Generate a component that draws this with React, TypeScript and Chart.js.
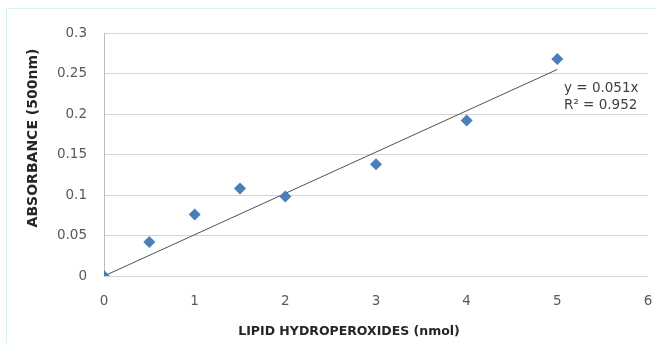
import React, { useEffect, useRef } from "react";
import { Chart, registerables } from "chart.js";

Chart.register(...registerables);

const lipidNmol = [0, 0.5, 1, 1.5, 2, 3, 4, 5];
const absorbance = [0, 0.042, 0.076, 0.108, 0.098, 0.138, 0.192, 0.268];
const trendX = [0, 5];
const trendY = [0, 0.255];
const xTickLabels = ["0", "1", "2", "3", "4", "5", "6"];
const yTickLabels = ["0", "0.05", "0.1", "0.15", "0.2", "0.25", "0.3"];
const xTitle = "LIPID HYDROPEROXIDES (nmol)";
const yTitle = "ABSORBANCE (500nm)";
const equationLines = ["y = 0.051x", "R\u00b2 = 0.952"];

const framePlugin = {
  id: "framePlugin",
  beforeDraw(chart: any) {
    const ctx = chart.ctx as CanvasRenderingContext2D;
    ctx.save();
    ctx.fillStyle = "#ffffff";
    ctx.fillRect(0, 0, chart.width, chart.height);
    ctx.strokeStyle = "#d2f4f4";
    ctx.lineWidth = 1;
    ctx.beginPath();
    ctx.moveTo(6.5, chart.height);
    ctx.lineTo(6.5, 8.5);
    ctx.lineTo(chart.width, 8.5);
    ctx.stroke();
    ctx.restore();
  },
};

const textPlugin = {
  id: "textPlugin",
  afterDraw(chart: any) {
    const ctx = chart.ctx as CanvasRenderingContext2D;
    ctx.save();
    ctx.fillStyle = "#262626";
    ctx.font = "bold 12.5px 'DejaVu Sans'";
    ctx.textAlign = "center";
    ctx.textBaseline = "middle";
    ctx.fillText(xTitle, 349, 332);
    ctx.translate(33, 138);
    ctx.rotate(-Math.PI / 2);
    ctx.font = "bold 14px 'DejaVu Sans'";
    ctx.fillText(yTitle, 0, 0);
    ctx.restore();

    ctx.save();
    ctx.fillStyle = "#404040";
    ctx.font = "13.5px 'DejaVu Sans'";
    ctx.textAlign = "left";
    ctx.textBaseline = "middle";
    ctx.fillText(equationLines[0], 564, 88);
    ctx.fillText(equationLines[1], 564, 105);
    ctx.restore();
  },
};

export default function App() {
  const ref = useRef<HTMLCanvasElement>(null);
  useEffect(() => {
    if (!ref.current) return;
    const chart = new Chart(ref.current, {
      type: "scatter",
      data: {
        datasets: [
          {
            type: "line",
            data: trendX.map((x, i) => ({ x, y: trendY[i] })),
            borderColor: "#505050",
            borderWidth: 1,
            pointRadius: 0,
            fill: false,
            order: 2,
          } as any,
          {
            data: lipidNmol.map((x, i) => ({ x, y: absorbance[i] })),
            pointStyle: "rectRot",
            pointRadius: 6,
            pointHoverRadius: 6,
            backgroundColor: "#4a7ebb",
            borderColor: "#4a7ebb",
            borderWidth: 0,
            order: 1,
          },
        ],
      },
      options: {
        animation: false,
        responsive: false,
        devicePixelRatio: 1,
        layout: { padding: { left: 0, right: 8, top: 33, bottom: 0 } },
        plugins: { legend: { display: false }, tooltip: { enabled: false } },
        scales: {
          x: {
            type: "linear",
            min: 0,
            max: 6,
            ticks: {
              stepSize: 1,
              padding: 17,
              color: "#595959",
              font: { family: "'DejaVu Sans'", size: 13.5 },
              callback: (_v: any, i: number) => xTickLabels[i],
            },
            grid: { display: false, drawTicks: false },
            border: { display: false },
            afterFit: (s: any) => {
              s.height = 67;
              s.paddingLeft = 0;
              s.paddingRight = 0;
            },
          },
          y: {
            type: "linear",
            min: 0,
            max: 0.3,
            ticks: {
              stepSize: 0.05,
              padding: 17,
              color: "#595959",
              font: { family: "'DejaVu Sans'", size: 13.5 },
              callback: (_v: any, i: number) => yTickLabels[i],
            },
            grid: { color: "#d4d4d4", lineWidth: 1, drawTicks: false },
            border: { display: true, color: "#bdbdbd", width: 1 },
            afterFit: (s: any) => {
              s.width = 104;
              s.paddingTop = 0;
              s.paddingBottom = 0;
            },
          },
        },
      },
      plugins: [framePlugin, textPlugin],
    });
    return () => chart.destroy();
  }, []);
  return (
    <div style={{ position: "absolute", left: 0, top: 0, width: 656, height: 343, overflow: "hidden" }}>
      <canvas ref={ref} width={656} height={343} style={{ position: "absolute", left: 0, top: 0, display: "block" }} />
    </div>
  );
}
